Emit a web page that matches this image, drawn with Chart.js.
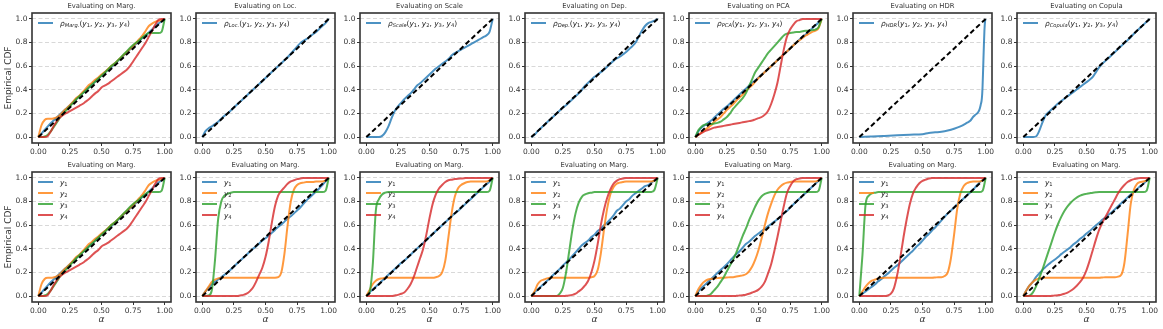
<!DOCTYPE html>
<html>
<head>
<meta charset="utf-8">
<script src="https://cdn.jsdelivr.net/npm/chart.js@4.4.1/dist/chart.umd.min.js"></script>
<style>
  body { margin: 0; background: #fff; }
  #wrap { position: relative; width: 1163px; height: 329px; overflow: hidden; background: #fff; }
  #wrap canvas { position: absolute; }
</style>
</head>
<body>
<div id="wrap"></div>
<script>
// eje alpha comun (paso 0.025)
const ALPHA = [0, 0.025, 0.05, 0.075, 0.1, 0.125, 0.15, 0.175, 0.2, 0.225,
  0.25, 0.275, 0.3, 0.325, 0.35, 0.375, 0.4, 0.425, 0.45, 0.475,
  0.5, 0.525, 0.55, 0.575, 0.6, 0.625, 0.65, 0.675, 0.7, 0.725,
  0.75, 0.775, 0.8, 0.825, 0.85, 0.875, 0.9, 0.925, 0.95, 0.975, 1];
const HDR_ALPHA = [0, 0.1, 0.2, 0.3, 0.4, 0.5, 0.55, 0.6, 0.65, 0.7, 0.75, 0.8, 0.85, 0.88, 0.9,
  0.92, 0.94, 0.95, 0.96, 0.97, 0.975, 0.98, 0.985, 0.99, 0.995, 1];
const X_TICKS = [0, 0.25, 0.5, 0.75, 1];
const Y_TICKS = [0, 0.2, 0.4, 0.6, 0.8, 1];

const TOP_TITLES = ['Evaluating on Marg.', 'Evaluating on Loc.', 'Evaluating on Scale', 'Evaluating on Dep.',
  'Evaluating on PCA', 'Evaluating on HDR', 'Evaluating on Copula'];
const TOP_SUBS = ['Marg.', 'Loc.', 'Scale', 'Dep.', 'PCA', 'HDR', 'Copula'];
const BOTTOM_TITLE = 'Evaluating on Marg.';

// Marg. (fila superior y primer panel inferior)
const margY1 = [0, .03, .06, .09, .12, .145, .17, .195, .22, .245,
  .27, .295, .32, .345, .37, .395, .42, .445, .47, .495,
  .52, .545, .57, .59, .615, .64, .665, .69, .715, .74,
  .765, .79, .815, .84, .86, .885, .91, .935, .96, .98, 1];
const margY2 = [0, .1, .145, .155, .155, .16, .17, .19, .22, .245,
  .27, .3, .33, .35, .38, .41, .44, .46, .485, .505,
  .53, .55, .575, .6, .62, .645, .67, .695, .72, .745,
  .77, .8, .83, .86, .9, .94, .96, .975, .985, .99, 1];
const margY3 = [0, 0, .005, .02, .05, .09, .13, .17, .2, .23,
  .26, .29, .32, .345, .37, .395, .42, .445, .47, .495,
  .52, .545, .57, .6, .62, .645, .67, .7, .725, .755,
  .78, .8, .82, .845, .865, .88, .88, .88, .88, .89, 1];
const margY4 = [0, 0, 0, .01, .05, .1, .14, .17, .19, .205,
  .22, .235, .25, .265, .28, .3, .32, .345, .37, .39,
  .42, .435, .45, .47, .49, .51, .53, .55, .57, .6,
  .64, .68, .72, .76, .8, .85, .9, .95, .99, 1, 1];

// fila superior, una curva rho
const locRho = [0, .05, .075, .09, .11, .13, .155, .18, .2, .225,
  .25, .275, .3, .325, .35, .375, .4, .425, .45, .475,
  .5, .525, .55, .575, .6, .625, .65, .675, .705, .735,
  .765, .795, .815, .83, .85, .87, .89, .915, .94, .965, 1];
const scaleRho = [0, 0, 0, 0, 0, .01, .04, .09, .16, .22,
  .26, .29, .32, .345, .37, .4, .435, .455, .48, .505,
  .53, .555, .58, .6, .62, .64, .66, .69, .71, .725,
  .74, .755, .77, .785, .8, .815, .83, .845, .86, .89, 1];
const depRho = [0, .02, .05, .075, .1, .125, .15, .175, .2, .225,
  .25, .27, .295, .32, .345, .37, .4, .435, .46, .485,
  .51, .53, .55, .57, .595, .62, .645, .665, .68, .7,
  .72, .745, .77, .8, .85, .9, .94, .965, .975, .985, 1];
const pcaY1 = [0, .05, .08, .1, .12, .14, .165, .19, .215, .24,
  .26, .285, .31, .335, .36, .385, .41, .435, .46, .48,
  .505, .53, .55, .575, .6, .625, .65, .675, .7, .725,
  .75, .775, .8, .825, .85, .87, .895, .92, .945, .97, 1];
const pcaY2 = [0, .02, .04, .06, .08, .1, .13, .15, .17, .2,
  .23, .255, .28, .31, .335, .36, .39, .415, .44, .47,
  .5, .525, .55, .575, .6, .625, .65, .675, .7, .725,
  .75, .775, .8, .82, .84, .86, .875, .89, .9, .92, 1];
const pcaY3 = [0, .06, .09, .105, .11, .11, .115, .12, .13, .15,
  .17, .2, .24, .27, .3, .33, .37, .43, .49, .55,
  .59, .63, .67, .71, .74, .77, .8, .83, .86, .875,
  .88, .885, .89, .89, .895, .9, .9, .905, .91, .93, 1];
const pcaY4 = [0, .02, .035, .05, .06, .07, .08, .085, .09, .095,
  .1, .105, .11, .115, .12, .125, .13, .135, .14, .15,
  .16, .17, .19, .22, .28, .36, .46, .6, .74, .85,
  .91, .95, .98, .99, 1, 1, 1, 1, 1, 1, 1];
const hdrRho = [0, .005, .01, .015, .02, .025, .035, .04, .045, .055, .07, .09, .12, .14, .17,
  .19, .21, .23, .27, .33, .42, .58, .75, .9, .98, 1];
const copRho = [0, 0, 0, 0, .005, .05, .12, .18, .21, .235,
  .26, .285, .305, .325, .345, .365, .385, .405, .425, .445,
  .465, .485, .51, .55, .59, .62, .645, .67, .695, .72,
  .745, .77, .795, .82, .845, .875, .9, .925, .95, .975, 1];

// fila inferior
const b2Y1 = [0, .04, .07, .1, .12, .14, .16, .18, .2, .225,
  .25, .275, .3, .325, .35, .375, .4, .42, .445, .47,
  .49, .51, .535, .56, .585, .605, .63, .655, .675, .7,
  .725, .75, .78, .81, .835, .86, .885, .91, .94, .97, 1];
const b2Y2 = [0, .04, .08, .12, .14, .15, .155, .155, .155, .155,
  .155, .155, .155, .155, .155, .155, .155, .155, .155, .155,
  .155, .155, .155, .155, .16, .2, .36, .6, .8, .9,
  .94, .955, .96, .965, .965, .965, .97, .97, .97, .98, 1];
const b2Y3 = [0, 0, .005, .05, .3, .65, .8, .85, .865, .875,
  .88, .88, .88, .88, .88, .88, .88, .88, .88, .88,
  .88, .88, .88, .88, .88, .88, .88, .88, .88, .88,
  .88, .88, .88, .88, .88, .88, .88, .88, .88, .89, 1];
const b2Y4 = [0, 0, 0, 0, 0, 0, 0, 0, 0, 0,
  0, 0, .005, .01, .02, .04, .07, .12, .18, .24,
  .33, .46, .62, .76, .85, .89, .92, .95, .97, .98,
  .99, .995, 1, 1, 1, 1, 1, 1, 1, 1, 1];

const b3Y1 = [0, .03, .055, .08, .105, .13, .155, .18, .205, .23,
  .255, .28, .3, .325, .35, .375, .4, .425, .45, .475,
  .5, .525, .55, .575, .6, .625, .65, .675, .7, .72,
  .745, .77, .795, .82, .845, .87, .895, .92, .945, .97, 1];
const b3Y2 = [0, .05, .1, .13, .145, .15, .155, .155, .155, .155,
  .155, .155, .155, .155, .155, .155, .155, .155, .155, .155,
  .155, .155, .16, .17, .2, .3, .5, .7, .84, .91,
  .94, .955, .965, .97, .97, .97, .97, .97, .97, .98, 1];
const b3Y3 = [0, .03, .25, .72, .82, .86, .875, .88, .88, .88,
  .88, .88, .88, .88, .88, .88, .88, .88, .88, .88,
  .88, .88, .88, .88, .88, .88, .88, .88, .88, .88,
  .88, .88, .88, .88, .88, .88, .88, .88, .88, .89, 1];
const b3Y4 = [0, 0, 0, 0, 0, 0, 0, 0, 0, .005,
  .01, .02, .03, .06, .1, .16, .24, .32, .4, .52,
  .66, .78, .86, .91, .94, .965, .98, .985, .99, .993,
  .995, .997, 1, 1, 1, 1, 1, 1, 1, 1, 1];

const b4Y1 = [0, .03, .055, .08, .105, .13, .155, .18, .205, .23,
  .26, .285, .31, .34, .37, .4, .43, .45, .47, .5,
  .52, .55, .57, .6, .62, .65, .68, .72, .74, .77,
  .8, .82, .85, .87, .89, .91, .93, .94, .96, .98, 1];
const b4Y2 = [0, .04, .1, .13, .14, .15, .155, .155, .155, .155,
  .155, .155, .155, .155, .155, .155, .155, .155, .155, .16,
  .17, .22, .36, .56, .74, .86, .92, .95, .96, .965,
  .97, .97, .97, .97, .97, .97, .97, .97, .97, .98, 1];
const b4Y3 = [0, 0, 0, 0, 0, 0, 0, 0, 0, .02,
  .07, .2, .38, .56, .7, .79, .84, .86, .87, .875,
  .88, .88, .88, .88, .88, .88, .88, .88, .88, .88,
  .88, .88, .88, .88, .88, .88, .88, .88, .88, .9, 1];
const b4Y4 = [0, 0, 0, 0, 0, 0, 0, 0, 0, 0,
  0, .003, .005, .01, .02, .04, .06, .09, .13, .2,
  .3, .44, .6, .73, .83, .9, .95, .975, .99, .995,
  1, 1, 1, 1, 1, 1, 1, 1, 1, 1, 1];

const b5Y1 = [0, .04, .07, .095, .12, .145, .17, .195, .22, .245,
  .27, .3, .33, .355, .38, .41, .44, .46, .485, .51,
  .53, .55, .57, .59, .61, .63, .65, .67, .7, .72,
  .75, .775, .8, .825, .85, .875, .9, .925, .95, .975, 1];
const b5Y2 = [0, .06, .1, .125, .14, .145, .15, .152, .155, .155,
  .157, .16, .16, .165, .17, .175, .185, .21, .25, .31,
  .39, .49, .6, .7, .78, .85, .9, .93, .95, .96,
  .965, .97, .97, .97, .97, .97, .97, .97, .97, .98, 1];
const b5Y3 = [0, 0, 0, 0, .005, .02, .05, .08, .12, .16,
  .21, .26, .31, .37, .44, .51, .57, .64, .7, .76,
  .81, .845, .865, .875, .88, .88, .88, .88, .88, .88,
  .88, .88, .88, .88, .88, .88, .88, .88, .88, .89, 1];
const b5Y4 = [0, 0, 0, 0, 0, 0, 0, 0, 0, 0,
  0, 0, 0, .002, .005, .008, .012, .02, .03, .04,
  .055, .08, .12, .19, .27, .38, .5, .63, .76, .87,
  .93, .97, .99, .995, 1, 1, 1, 1, 1, 1, 1];

const b6Y1 = [0, .02, .04, .06, .08, .1, .125, .145, .17, .19,
  .215, .24, .26, .285, .31, .335, .36, .385, .415, .44,
  .47, .5, .525, .555, .58, .61, .64, .67, .7, .725,
  .75, .775, .8, .825, .85, .875, .9, .93, .96, .98, 1];
const b6Y2 = [0, .04, .08, .11, .13, .14, .15, .153, .155, .155,
  .155, .155, .155, .155, .155, .155, .155, .155, .155, .155,
  .155, .155, .155, .155, .157, .16, .16, .17, .2, .32,
  .52, .74, .87, .93, .955, .965, .97, .97, .97, .98, 1];
const b6Y3 = [0, .35, .78, .85, .87, .875, .88, .88, .88, .88,
  .88, .88, .88, .88, .88, .88, .88, .88, .88, .88,
  .88, .88, .88, .88, .88, .88, .88, .88, .88, .88,
  .88, .88, .88, .88, .88, .88, .88, .88, .88, .89, 1];
const b6Y4 = [0, 0, 0, 0, 0, 0, 0, 0, 0, .005,
  .02, .07, .18, .33, .5, .65, .78, .87, .92, .955,
  .975, .985, .995, 1, 1, 1, 1, 1, 1, 1,
  1, 1, 1, 1, 1, 1, 1, 1, 1, 1, 1];

const b7Y1 = [0, .05, .09, .12, .16, .19, .22, .245, .27, .29,
  .31, .33, .355, .375, .395, .415, .44, .46, .485, .505,
  .53, .55, .575, .6, .62, .645, .665, .69, .71, .735,
  .76, .785, .81, .835, .86, .88, .905, .93, .95, .975, 1];
const b7Y2 = [0, .05, .09, .12, .14, .15, .155, .155, .155, .155,
  .155, .155, .155, .155, .155, .155, .155, .155, .155, .155,
  .155, .155, .155, .155, .155, .157, .16, .16, .16, .16,
  .165, .18, .28, .52, .78, .9, .95, .965, .97, .98, 1];
const b7Y3 = [0, 0, .005, .03, .08, .15, .22, .3, .38, .46,
  .54, .61, .67, .72, .76, .79, .815, .835, .85, .86,
  .865, .87, .875, .878, .88, .88, .88, .88, .88, .88,
  .88, .88, .88, .88, .88, .88, .88, .88, .88, .89, 1];
const b7Y4 = [0, 0, 0, 0, 0, 0, 0, 0, 0, .002,
  .005, .008, .012, .02, .03, .045, .065, .09, .12, .16,
  .22, .3, .39, .48, .56, .62, .67, .72, .77, .82,
  .87, .91, .94, .965, .98, .99, .995, 1, 1, 1, 1];

const DIAG = [0, 1];

const COLORS = ['rgba(31,119,180,0.8)', 'rgba(255,127,14,0.8)', 'rgba(44,160,44,0.8)', 'rgba(214,39,40,0.8)'];
const FONT = 'DejaVu Sans';

const topSeries = [[margY1, margY2, margY3, margY4], [locRho], [scaleRho], [depRho],
  [pcaY1, pcaY2, pcaY3, pcaY4], [hdrRho], [copRho]];
const topX = [ALPHA, ALPHA, ALPHA, ALPHA, ALPHA, HDR_ALPHA, ALPHA];
const bottomSeries = [[margY1, margY2, margY3, margY4], [b2Y1, b2Y2, b2Y3, b2Y4], [b3Y1, b3Y2, b3Y3, b3Y4],
  [b4Y1, b4Y2, b4Y3, b4Y4], [b5Y1, b5Y2, b5Y3, b5Y4], [b6Y1, b6Y2, b6Y3, b6Y4], [b7Y1, b7Y2, b7Y3, b7Y4]];

// geometria de los paneles
const PLOT_W = 139, PLOT_H = 130, TITLE_H = 13, RIGHT_PAD = 10;
const ROW_TOP = [13, 172];
function plotLeft(col) { return Math.round(32 + col * 164.2); }

// marco de los ejes
const framePlugin = {
  id: 'frame',
  afterDraw(chart) {
    const a = chart.chartArea, ctx = chart.ctx;
    ctx.save();
    ctx.strokeStyle = '#333';
    ctx.lineWidth = 1.6;
    ctx.strokeRect(a.left, a.top, a.right - a.left, a.bottom - a.top);
    ctx.restore();
  }
};

// texto con subindices (estilo mathtext)
function drawRich(ctx, x, y, segs, size) {
  let cx = x;
  segs.forEach(s => {
    const fs = s.sub ? size * 0.7 : size;
    ctx.font = (s.it ? 'italic ' : '') + fs + 'px "' + FONT + '"';
    ctx.fillText(s.t, cx, s.sub ? y + size * 0.25 : y);
    cx += ctx.measureText(s.t).width;
  });
}

function rhoSegs(sub) {
  const segs = [{ t: 'ρ', it: true }, { t: sub, it: true, sub: true }, { t: '(' }];
  for (let k = 1; k <= 4; k++) {
    segs.push({ t: 'y', it: true }, { t: String(k), sub: true });
    segs.push({ t: k < 4 ? ', ' : ')' });
  }
  return segs;
}

function makeLegend(entries) {
  return {
    id: 'richLegend',
    afterDatasetsDraw(chart) {
      const a = chart.chartArea, ctx = chart.ctx;
      ctx.save();
      ctx.textBaseline = 'alphabetic';
      ctx.fillStyle = '#222';
      entries.forEach((e, k) => {
        const y = a.top + 10 + k * 11;
        ctx.strokeStyle = e.color;
        ctx.lineWidth = 2;
        ctx.beginPath();
        ctx.moveTo(a.left + 6, y);
        ctx.lineTo(a.left + 21, y);
        ctx.stroke();
        drawRich(ctx, a.left + 28, y + 2.6, e.segs, 7.4);
      });
      ctx.restore();
    }
  };
}

function buildPanel(row, col, title, xs, series, legendEntries) {
  const yw = col === 0 ? 32 : 30;
  const xh = row === 0 ? 16 : 26;
  const left = plotLeft(col) - yw;
  const top = ROW_TOP[row] - TITLE_H;
  const cv = document.createElement('canvas');
  cv.width = yw + PLOT_W + RIGHT_PAD;
  cv.height = TITLE_H + PLOT_H + xh;
  cv.style.left = left + 'px';
  cv.style.top = top + 'px';
  document.getElementById('wrap').appendChild(cv);

  const datasets = [{
    data: DIAG.map(v => ({ x: v, y: v })),
    showLine: true, borderColor: '#000', borderWidth: 2, borderDash: [5, 3], pointRadius: 0
  }];
  for (let k = series.length - 1; k >= 0; k--) {
    datasets.push({
      data: xs.map((x, i) => ({ x: x, y: series[k][i] })),
      showLine: true, borderColor: COLORS[k], borderWidth: 2, pointRadius: 0,
      cubicInterpolationMode: 'monotone'
    });
  }

  const tickFont = { family: FONT, size: 7.5 };
  new Chart(cv, {
    type: 'scatter',
    data: { datasets: datasets },
    options: {
      responsive: false, animation: false, devicePixelRatio: 1,
      layout: { padding: { left: 0, right: RIGHT_PAD, top: 0, bottom: 0 } },
      plugins: {
        legend: { display: false },
        tooltip: { enabled: false },
        title: {
          display: true, text: title, fullSize: false, color: '#333',
          font: { family: FONT, size: 6.8, weight: 'normal', lineHeight: 1.2 },
          padding: { top: 2.4, bottom: 2.44 }
        }
      },
      scales: {
        x: {
          type: 'linear', min: -0.05, max: 1.05,
          afterBuildTicks: s => { s.ticks = X_TICKS.map(v => ({ value: v })); },
          afterFit: s => { s.height = xh; },
          ticks: { font: tickFont, color: '#333', padding: 2, maxRotation: 0, minRotation: 0, autoSkip: false,
            callback: v => Number(v).toFixed(2) },
          grid: { drawOnChartArea: false, tickLength: 3, tickColor: '#333', tickWidth: 1 },
          border: { display: false },
          title: { display: row === 1, text: 'α', color: '#333',
            font: { family: FONT, size: 9, style: 'italic' }, padding: { top: 0, bottom: 3 } }
        },
        y: {
          type: 'linear', min: -0.05, max: 1.05,
          afterBuildTicks: s => { s.ticks = Y_TICKS.map(v => ({ value: v })); },
          afterFit: s => { s.width = yw; },
          ticks: { font: tickFont, color: '#333', padding: 1.5, autoSkip: false,
            callback: v => Number(v).toFixed(1) },
          grid: { color: '#d8d8d8', lineWidth: 1, tickLength: 3, tickColor: '#333', tickWidth: 1, tickBorderDash: [] },
          border: { display: false, dash: [4, 2.5] },
          title: { display: col === 0, text: 'Empirical CDF', color: '#333',
            font: { family: FONT, size: 9 }, padding: { top: 3, bottom: 0 } }
        }
      }
    },
    plugins: [framePlugin, makeLegend(legendEntries)]
  });
}

for (let c = 0; c < 7; c++) {
  buildPanel(0, c, TOP_TITLES[c], topX[c], topSeries[c],
    [{ color: COLORS[0], segs: rhoSegs(TOP_SUBS[c]) }]);
  const yEntries = [1, 2, 3, 4].map(k => ({
    color: COLORS[k - 1],
    segs: [{ t: 'y', it: true }, { t: String(k), sub: true }]
  }));
  buildPanel(1, c, BOTTOM_TITLE, ALPHA, bottomSeries[c], yEntries);
}
</script>
</body>
</html>
